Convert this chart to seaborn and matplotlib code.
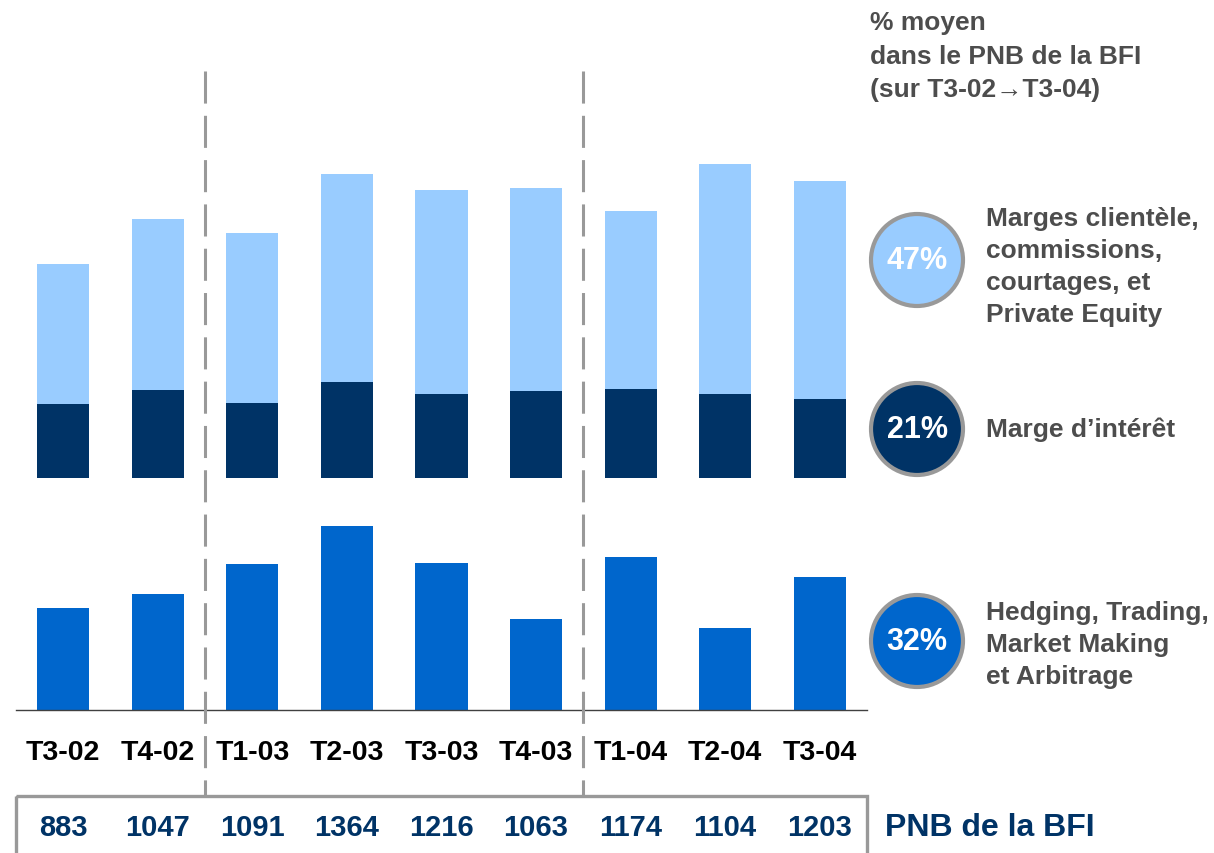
import numpy as np
import pandas as pd
import matplotlib
matplotlib.use("Agg")
import matplotlib.pyplot as plt
import matplotlib.transforms as mtrans
from matplotlib.patches import Circle, Rectangle
import seaborn as sns

# data (M EUR)
quarters = ["T3-02", "T4-02", "T1-03", "T2-03", "T3-03", "T4-03", "T1-04", "T2-04", "T3-04"]
marge_interet = [206, 247, 209, 268, 236, 242, 248, 235, 220]
marges_clientele = [392, 477, 474, 582, 568, 568, 498, 641, 611]
hedging_trading = [285, 323, 408, 514, 412, 253, 428, 228, 372]
pnb_bfi = [883, 1047, 1091, 1364, 1216, 1063, 1174, 1104, 1203]
share_pct = ["47%", "21%", "32%"]
share_names = ["Marges clientèle,\ncommissions,\ncourtages, et\nPrivate Equity",
               "Marge d\u2019intérêt",
               "Hedging, Trading,\nMarket Making\net Arbitrage"]
separators = [1.5, 5.5]

LIGHT, NAVY, MID = "#99CCFF", "#003366", "#0066CC"
GREY, TXT = "#999999", "#4D4D4D"

sns.set_style("white")
plt.rcParams["font.family"] = ["Liberation Sans", "DejaVu Sans"]

W, H = 1214, 854
PX_PER_UNIT = 0.358
fig = plt.figure(figsize=(W / 100, H / 100), dpi=100)

def px_axes(x0, y0, x1, y1):
    return fig.add_axes([x0 / W, 1 - y1 / H, (x1 - x0) / W, (y1 - y0) / H])

df = pd.DataFrame({"quarter": quarters, "interet": marge_interet,
                   "clientele": marges_clientele, "hedging": hedging_trading})
df["stack"] = df["interet"] + df["clientele"]

# upper panel: stacked margins
ax_top = px_axes(16, 140, 867, 479)
sns.barplot(data=df, x="quarter", y="stack", color=LIGHT, saturation=1,
            width=0.55, linewidth=0, ax=ax_top)
sns.barplot(data=df, x="quarter", y="interet", color=NAVY, saturation=1,
            width=0.55, linewidth=0, ax=ax_top)
ax_top.set_ylim(0, (479 - 140) / PX_PER_UNIT)

# lower panel: trading
ax_bot = px_axes(16, 480, 867, 711)
sns.barplot(data=df, x="quarter", y="hedging", color=MID, saturation=1,
            width=0.55, linewidth=0, ax=ax_bot)
ax_bot.set_ylim(0, (711 - 480) / PX_PER_UNIT)

for ax in (ax_top, ax_bot):
    ax.set_xlim(-0.5, len(quarters) - 0.5)
    ax.set_xlabel("")
    ax.set_ylabel("")
    ax.set_yticks([])
    ax.set_facecolor("none")
    sns.despine(ax=ax, left=True, bottom=(ax is ax_top))
ax_top.set_xticks([])
ax_bot.spines["bottom"].set_color("#404040")
ax_bot.spines["bottom"].set_linewidth(1)
ax_bot.tick_params(axis="x", length=0, pad=21, labelsize=20.5, labelcolor="black")
for lbl in ax_bot.get_xticklabels():
    lbl.set_fontweight("bold")

# overlay in pixel coords for the annotations
ov = fig.add_axes([0, 0, 1, 1])
ov.set_xlim(0, W)
ov.set_ylim(H, 0)
ov.axis("off")
ov.set_facecolor("none")
trans = mtrans.blended_transform_factory(ax_bot.transData, ov.transData)

for x in separators:
    ov.plot([x, x], [72, 797], transform=trans, color=GREY, lw=2.2,
            dashes=(10.5, 4), solid_capstyle="butt")

ov.add_patch(Rectangle((-0.5, 797), len(quarters), 80, transform=trans,
                       fill=False, edgecolor=GREY, lw=2.4, clip_on=False))
for i, v in enumerate(pnb_bfi):
    ov.text(i, 828, str(v), transform=trans, ha="center", va="center",
            fontsize=21, fontweight="bold", color=NAVY)
ov.text(885, 828, "PNB de la BFI", ha="left", va="center",
        fontsize=23, fontweight="bold", color=NAVY)

def lines(x, y0, text, step, **kw):
    for k, line in enumerate(text.split("\n")):
        ov.text(x, y0 + k * step, line, ha="left", va="baseline", **kw)

lines(870, 30, "% moyen\ndans le PNB de la BFI\n(sur T3-02\u2192T3-04)", 33.5,
      fontsize=19, fontweight="bold", color=TXT)

circle_y = [261, 430, 642]
label_y = [226, 437, 620]
fills = [LIGHT, NAVY, MID]
for cy, ly, pct, name, fc in zip(circle_y, label_y, share_pct, share_names, fills):
    ov.add_patch(Circle((917, cy), 46, facecolor=fc, edgecolor=GREY, lw=3))
    ov.text(917, cy, pct, ha="center", va="center", fontsize=22,
            fontweight="bold", color="white")
    lines(986, ly, name, 32, fontsize=19, fontweight="bold", color=TXT)

fig.savefig("out.png", dpi=100)
